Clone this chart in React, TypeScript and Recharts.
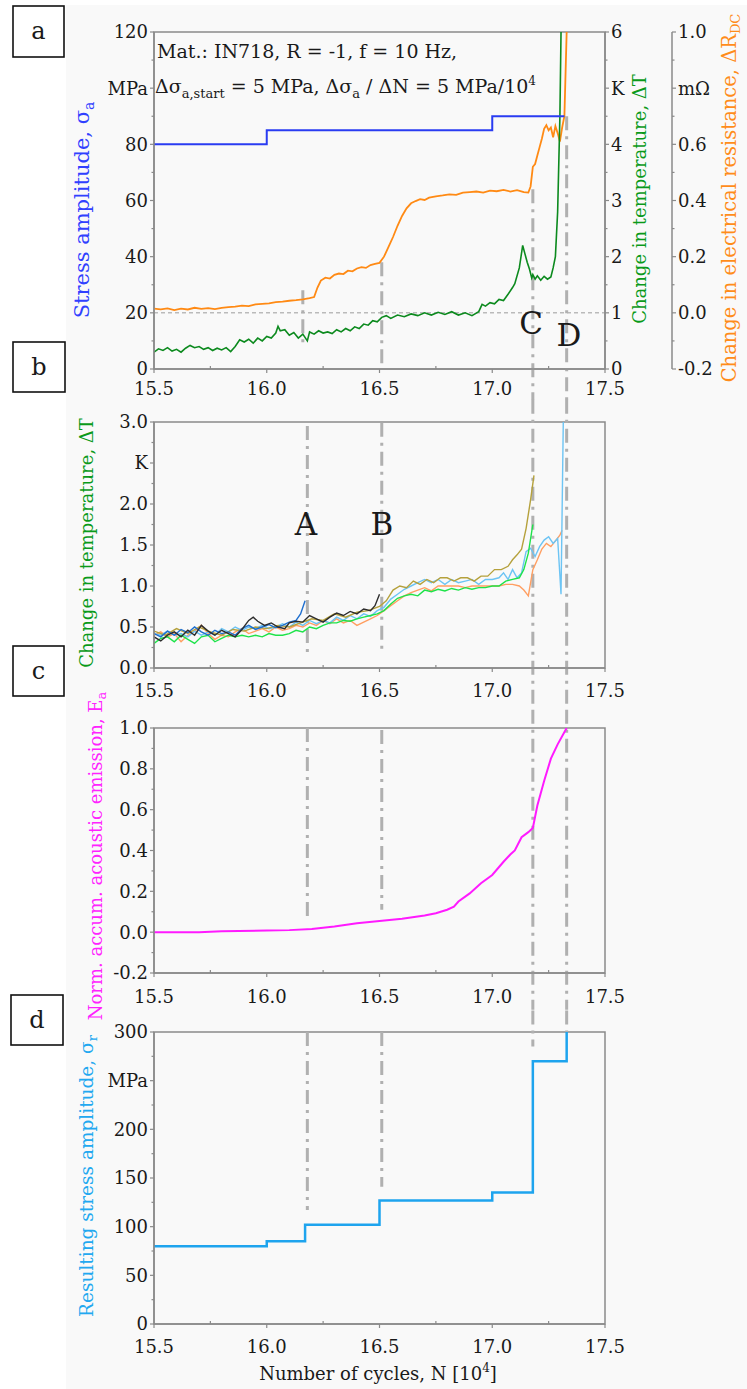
import React from "react";
import { LineChart, Line, XAxis, YAxis, ReferenceLine, ReferenceArea } from "recharts";

// ---- data -----------------------------------------------------------------

const X_TICKS = [15.5, 15.75, 16, 16.25, 16.5, 16.75, 17, 17.25, 17.5];
const SIGMA_TICKS = [0, 10, 20, 30, 40, 50, 60, 70, 80, 90, 100, 110, 120];
const TEMP_A_TICKS = [0, 0.5, 1, 1.5, 2, 2.5, 3, 3.5, 4, 4.5, 5, 5.5, 6];
const RES_TICKS = [-0.2, -0.1, 0, 0.1, 0.2, 0.3, 0.4, 0.5, 0.6, 0.7, 0.8, 0.9, 1.0];
const TEMP_B_TICKS = [0, 0.25, 0.5, 0.75, 1, 1.25, 1.5, 1.75, 2, 2.25, 2.5, 2.75, 3];
const EA_TICKS = [-0.2, -0.1, 0, 0.1, 0.2, 0.3, 0.4, 0.5, 0.6, 0.7, 0.8, 0.9, 1.0];
const SIGR_TICKS = [0, 25, 50, 75, 100, 125, 150, 175, 200, 225, 250, 275, 300];

// events A..D in 10^4 cycles
const EV_A = 16.17;
const EV_B = 16.51;
const EV_C = 17.18;
const EV_D = 17.33;

// panel a: stress amplitude (MPa)
const SIGMA_A: [number, number][] = [
  [15.5, 80], [16.0, 85], [17.0, 90], [17.32, 90],
];

// panel a: change in temperature (K)
const TEMP_A: [number, number][] = [
  [15.5, 0.3], [15.52, 0.36], [15.54, 0.33], [15.56, 0.38], [15.58, 0.32], [15.6, 0.35],
  [15.62, 0.3], [15.64, 0.37], [15.66, 0.42], [15.68, 0.38], [15.7, 0.4], [15.72, 0.35],
  [15.74, 0.38], [15.76, 0.33], [15.78, 0.37], [15.8, 0.34], [15.82, 0.38], [15.84, 0.31],
  [15.86, 0.4], [15.88, 0.52], [15.9, 0.48], [15.92, 0.53], [15.94, 0.46], [15.96, 0.55],
  [15.98, 0.5], [16.0, 0.58], [16.02, 0.55], [16.04, 0.64], [16.05, 0.76], [16.06, 0.68],
  [16.08, 0.7], [16.1, 0.6], [16.12, 0.65], [16.14, 0.55], [16.16, 0.62], [16.18, 0.5],
  [16.19, 0.66], [16.21, 0.62], [16.23, 0.68], [16.25, 0.64], [16.27, 0.66], [16.29, 0.63],
  [16.31, 0.7], [16.33, 0.66], [16.35, 0.72], [16.37, 0.68], [16.39, 0.75], [16.41, 0.72],
  [16.43, 0.8], [16.45, 0.78], [16.47, 0.86], [16.49, 0.84], [16.51, 0.92], [16.53, 0.95],
  [16.55, 0.9], [16.58, 0.96], [16.61, 0.93], [16.64, 0.98], [16.67, 0.95], [16.7, 1.0],
  [16.73, 0.96], [16.76, 1.01], [16.79, 0.97], [16.82, 1.02], [16.85, 0.96], [16.88, 1.0],
  [16.91, 0.95], [16.94, 1.02], [16.955, 1.15], [16.97, 1.12], [16.99, 1.18], [17.01, 1.16],
  [17.03, 1.24], [17.05, 1.22], [17.07, 1.33], [17.09, 1.45], [17.1, 1.52], [17.12, 1.8],
  [17.135, 2.2], [17.145, 2.05], [17.155, 1.9], [17.165, 1.78], [17.175, 1.62], [17.18, 1.68],
  [17.19, 1.6], [17.2, 1.66], [17.215, 1.58], [17.23, 1.65], [17.245, 1.6], [17.26, 1.64],
  [17.27, 1.8], [17.28, 2.0], [17.29, 2.8], [17.3, 4.5], [17.305, 6.0],
];

// panel a: change in electrical resistance (mOhm)
const RES_A: [number, number][] = [
  [15.5, 0.015], [15.53, 0.012], [15.56, 0.016], [15.59, 0.01], [15.62, 0.015], [15.65, 0.012],
  [15.68, 0.018], [15.71, 0.014], [15.74, 0.017], [15.77, 0.013], [15.8, 0.018], [15.83, 0.02],
  [15.86, 0.022], [15.89, 0.026], [15.92, 0.024], [15.95, 0.03], [15.98, 0.032], [16.01, 0.034],
  [16.04, 0.038], [16.07, 0.04], [16.1, 0.043], [16.13, 0.045], [16.16, 0.048], [16.19, 0.052],
  [16.21, 0.056], [16.225, 0.09], [16.24, 0.115], [16.26, 0.125], [16.28, 0.122], [16.3, 0.135],
  [16.32, 0.14], [16.34, 0.138], [16.36, 0.15], [16.38, 0.148], [16.4, 0.158], [16.42, 0.163],
  [16.44, 0.16], [16.46, 0.17], [16.48, 0.174], [16.5, 0.178], [16.52, 0.2], [16.54, 0.235],
  [16.56, 0.27], [16.58, 0.31], [16.6, 0.345], [16.62, 0.372], [16.64, 0.39], [16.66, 0.398],
  [16.68, 0.405], [16.7, 0.402], [16.72, 0.41], [16.75, 0.415], [16.78, 0.418], [16.81, 0.422],
  [16.84, 0.42], [16.87, 0.428], [16.9, 0.43], [16.93, 0.432], [16.96, 0.428], [16.99, 0.435],
  [17.02, 0.433], [17.05, 0.438], [17.08, 0.432], [17.11, 0.437], [17.14, 0.43], [17.16, 0.428],
  [17.17, 0.45], [17.18, 0.52], [17.19, 0.53], [17.2, 0.56], [17.21, 0.59], [17.22, 0.62],
  [17.23, 0.655], [17.24, 0.668], [17.25, 0.65], [17.26, 0.66], [17.27, 0.625], [17.28, 0.665],
  [17.29, 0.64], [17.3, 0.61], [17.31, 0.66], [17.32, 0.7], [17.33, 1.0],
];

// panel b: change in temperature of several specimens (K)
const TB_BLACK: [number, number][] = [
  [15.5, 0.38], [15.53, 0.33], [15.56, 0.4], [15.59, 0.44], [15.62, 0.38], [15.65, 0.46],
  [15.68, 0.4], [15.71, 0.52], [15.74, 0.45], [15.77, 0.4], [15.8, 0.46], [15.83, 0.42],
  [15.86, 0.38], [15.89, 0.47], [15.92, 0.58], [15.94, 0.62], [15.96, 0.57], [15.99, 0.52],
  [16.02, 0.55], [16.05, 0.5], [16.08, 0.48], [16.1, 0.55], [16.13, 0.57], [16.16, 0.56],
  [16.19, 0.64], [16.22, 0.6], [16.25, 0.56], [16.28, 0.62], [16.31, 0.67], [16.34, 0.64],
  [16.37, 0.69], [16.4, 0.66], [16.43, 0.72], [16.46, 0.7], [16.48, 0.76], [16.5, 0.9],
];
const TB_BLUE: [number, number][] = [
  [15.5, 0.42], [15.53, 0.38], [15.56, 0.45], [15.59, 0.4], [15.62, 0.47], [15.65, 0.43],
  [15.68, 0.5], [15.71, 0.44], [15.74, 0.4], [15.77, 0.46], [15.8, 0.42], [15.83, 0.44],
  [15.86, 0.4], [15.89, 0.48], [15.92, 0.52], [15.95, 0.47], [15.98, 0.5], [16.01, 0.53],
  [16.04, 0.49], [16.07, 0.52], [16.1, 0.56], [16.13, 0.58], [16.15, 0.66], [16.17, 0.82],
];
const TB_OLIVE: [number, number][] = [
  [15.5, 0.45], [15.55, 0.4], [15.6, 0.48], [15.65, 0.42], [15.7, 0.5], [15.75, 0.44],
  [15.8, 0.4], [15.85, 0.47], [15.9, 0.45], [15.95, 0.5], [16.0, 0.48], [16.05, 0.52],
  [16.1, 0.5], [16.15, 0.55], [16.2, 0.6], [16.25, 0.58], [16.3, 0.66], [16.35, 0.62],
  [16.4, 0.68], [16.45, 0.7], [16.5, 0.75], [16.53, 0.82], [16.56, 0.95], [16.59, 1.0],
  [16.62, 0.98], [16.65, 1.06], [16.68, 1.02], [16.71, 1.08], [16.74, 1.04], [16.77, 1.1],
  [16.8, 1.1], [16.83, 1.06], [16.86, 1.1], [16.89, 1.1], [16.92, 1.06], [16.95, 1.12],
  [16.98, 1.12], [17.01, 1.2], [17.04, 1.2], [17.07, 1.24], [17.09, 1.32], [17.11, 1.38],
  [17.13, 1.45], [17.15, 1.7], [17.17, 2.05], [17.185, 2.35],
];
const TB_GREEN: [number, number][] = [
  [15.5, 0.3], [15.53, 0.36], [15.56, 0.38], [15.59, 0.32], [15.62, 0.4], [15.65, 0.35],
  [15.68, 0.3], [15.71, 0.38], [15.74, 0.4], [15.77, 0.32], [15.8, 0.36], [15.83, 0.4],
  [15.86, 0.38], [15.89, 0.4], [15.92, 0.38], [15.95, 0.4], [15.98, 0.38], [16.01, 0.42],
  [16.04, 0.4], [16.07, 0.4], [16.1, 0.42], [16.13, 0.46], [16.16, 0.44], [16.19, 0.5],
  [16.22, 0.48], [16.25, 0.52], [16.28, 0.55], [16.31, 0.55], [16.34, 0.58], [16.37, 0.57],
  [16.4, 0.6], [16.43, 0.62], [16.46, 0.64], [16.49, 0.66], [16.52, 0.7], [16.55, 0.78],
  [16.58, 0.85], [16.61, 0.88], [16.64, 0.9], [16.67, 0.88], [16.7, 0.95], [16.73, 0.93],
  [16.76, 0.96], [16.79, 0.94], [16.82, 0.97], [16.85, 0.95], [16.88, 0.98], [16.91, 0.96],
  [16.94, 0.98], [16.97, 0.98], [17.0, 1.0], [17.03, 1.0], [17.06, 1.06], [17.09, 1.08],
  [17.12, 1.1], [17.14, 1.2], [17.16, 1.4], [17.18, 1.75],
];
const TB_ORANGE: [number, number][] = [
  [15.5, 0.4], [15.53, 0.44], [15.56, 0.38], [15.59, 0.42], [15.62, 0.32], [15.65, 0.4],
  [15.68, 0.45], [15.71, 0.52], [15.74, 0.42], [15.77, 0.35], [15.8, 0.4], [15.83, 0.38],
  [15.86, 0.44], [15.89, 0.48], [15.92, 0.42], [15.95, 0.45], [15.98, 0.48], [16.01, 0.44],
  [16.04, 0.5], [16.07, 0.46], [16.1, 0.48], [16.13, 0.52], [16.16, 0.5], [16.19, 0.55],
  [16.22, 0.52], [16.25, 0.58], [16.28, 0.54], [16.31, 0.6], [16.34, 0.55], [16.37, 0.58],
  [16.4, 0.52], [16.43, 0.56], [16.46, 0.6], [16.49, 0.64], [16.52, 0.7], [16.55, 0.76],
  [16.58, 0.82], [16.61, 0.88], [16.64, 0.92], [16.67, 0.95], [16.7, 0.98], [16.73, 0.94],
  [16.76, 1.0], [16.79, 1.0], [16.82, 1.0], [16.85, 1.0], [16.88, 0.98], [16.91, 1.0],
  [16.94, 1.0], [16.97, 1.0], [17.0, 1.0], [17.03, 1.0], [17.06, 1.02], [17.09, 1.02],
  [17.12, 1.0], [17.14, 0.95], [17.16, 0.88], [17.18, 1.2], [17.2, 1.32], [17.22, 1.45],
  [17.24, 1.52], [17.26, 1.48], [17.28, 1.55], [17.3, 1.62], [17.31, 1.68],
];
const TB_LIGHTBLUE: [number, number][] = [
  [15.5, 0.42], [15.53, 0.4], [15.56, 0.45], [15.59, 0.4], [15.62, 0.42], [15.65, 0.38],
  [15.68, 0.45], [15.71, 0.4], [15.74, 0.44], [15.77, 0.4], [15.8, 0.48], [15.83, 0.44],
  [15.86, 0.5], [15.89, 0.46], [15.92, 0.5], [15.95, 0.48], [15.98, 0.52], [16.01, 0.48],
  [16.04, 0.5], [16.07, 0.54], [16.1, 0.5], [16.13, 0.56], [16.16, 0.52], [16.19, 0.58],
  [16.22, 0.54], [16.25, 0.58], [16.28, 0.55], [16.31, 0.62], [16.34, 0.58], [16.37, 0.64],
  [16.4, 0.6], [16.43, 0.66], [16.46, 0.63], [16.49, 0.7], [16.52, 0.74], [16.55, 0.84],
  [16.58, 0.9], [16.61, 0.96], [16.64, 1.0], [16.67, 1.04], [16.7, 1.08], [16.73, 1.04],
  [16.76, 1.08], [16.79, 1.02], [16.82, 1.08], [16.85, 1.04], [16.88, 1.06], [16.91, 1.08],
  [16.94, 1.02], [16.97, 1.08], [17.0, 1.08], [17.03, 1.1], [17.05, 1.16], [17.07, 1.08],
  [17.09, 1.2], [17.11, 1.1], [17.13, 1.16], [17.15, 1.42], [17.17, 1.46], [17.19, 1.36],
  [17.21, 1.48], [17.23, 1.56], [17.25, 1.6], [17.27, 1.52], [17.29, 1.58], [17.305, 0.9],
  [17.315, 3.0],
];

// panel c: normalised accumulated acoustic emission
const EA: [number, number][] = [
  [15.5, 0.0], [15.7, 0.0], [15.8, 0.005], [16.0, 0.008], [16.1, 0.01], [16.2, 0.016],
  [16.3, 0.028], [16.4, 0.044], [16.5, 0.055], [16.6, 0.066], [16.7, 0.082], [16.75, 0.093],
  [16.8, 0.11], [16.83, 0.125], [16.85, 0.15], [16.9, 0.19], [16.95, 0.24], [17.0, 0.28],
  [17.05, 0.345], [17.08, 0.38], [17.1, 0.4], [17.13, 0.465], [17.16, 0.49], [17.18, 0.51],
  [17.2, 0.62], [17.23, 0.74], [17.26, 0.85], [17.29, 0.92], [17.33, 1.0],
];

// panel d: resulting stress amplitude (MPa)
const SIGMA_R: [number, number][] = [
  [15.5, 80], [16.0, 85], [16.17, 102], [16.5, 127], [17.0, 135], [17.18, 270], [17.33, 300],
];

// ---- styling --------------------------------------------------------------

const SERIF = "'DejaVu Serif', serif";
const AXIS = "#8a8a8a";
const REF = "#b0b0b0";
const REF_DASH = "14 6 3 6";
const TXT = "#1a1a1a";

const pts = (arr: [number, number][]) => arr.map(([x, y]) => ({ x, y }));

const near = (v: number, step: number) => Math.abs(v / step - Math.round(v / step)) < 1e-6;

function XTick(props: any) {
  const { x, y, payload, off } = props;
  const v = payload.value;
  const major = near(v, 0.5);
  return (
    <g>
      <line x1={x} x2={x} y1={y} y2={major ? y + 4 : y - 3} stroke={AXIS} strokeWidth={1.2} />
      {major && (
        <text x={x} y={y + off} textAnchor="middle" fontFamily={SERIF} fontSize={18} fill={TXT}>
          {v.toFixed(1)}
        </text>
      )}
    </g>
  );
}

function YTick(props: any) {
  const { x, y, payload, side, labelOf } = props;
  const label = labelOf(payload.value);
  const dir = side === "left" ? -1 : 1;
  return (
    <g>
      <line x1={x} x2={x + dir * (label !== null ? 4 : 2.5)} y1={y} y2={y} stroke={AXIS} strokeWidth={1.2} />
      {label !== null && (
        <text
          x={x + dir * 6}
          y={y}
          dy="0.36em"
          textAnchor={side === "left" ? "end" : "start"}
          fontFamily={SERIF}
          fontSize={18}
          fill={TXT}
        >
          {label}
        </text>
      )}
    </g>
  );
}

const sigmaLabel = (v: number) => (v % 20 === 0 ? (v === 100 ? "MPa" : String(v)) : null);
const tempALabel = (v: number) => (Number.isInteger(v) ? (v === 5 ? "K" : String(v)) : null);
const resLabel = (v: number) =>
  near(v, 0.2) ? (Math.abs(v - 0.8) < 1e-6 ? "m\u03A9" : v.toFixed(1)) : null;
const tempBLabel = (v: number) => (near(v, 0.5) ? (v === 2.5 ? "K" : v.toFixed(1)) : null);
const eaLabel = (v: number) => (near(v, 0.2) ? v.toFixed(1) : null);
const sigrLabel = (v: number) => (v % 50 === 0 ? (v === 250 ? "MPa" : String(v)) : null);

const xAxis = (off: number) => (
  <XAxis
    type="number"
    dataKey="x"
    domain={[15.5, 17.5]}
    ticks={X_TICKS}
    interval={0}
    allowDataOverflow
    tickSize={0}
    tickMargin={0}
    tickLine={false}
    height={30}
    axisLine={{ stroke: AXIS, strokeWidth: 1.5 }}
    tick={(p: any) => <XTick {...p} off={off} />}
  />
);

const yAxis = (id: string, domain: [number, number], ticks: number[], labelOf: any, side: "left" | "right", width: number) => (
  <YAxis
    yAxisId={id}
    type="number"
    orientation={side}
    domain={domain}
    ticks={ticks}
    interval={0}
    allowDataOverflow
    width={width}
    tickSize={0}
    tickMargin={0}
    tickLine={false}
    axisLine={{ stroke: AXIS, strokeWidth: 1.5 }}
    tick={(p: any) => <YTick {...p} side={side} labelOf={labelOf} />}
  />
);

const eventLine = (key: string, yAxisId: string, x: number, y1: number, y2: number) => (
  <ReferenceLine
    key={key}
    yAxisId={yAxisId}
    segment={[{ x, y: y1 }, { x, y: y2 }]}
    ifOverflow="visible"
    stroke={REF}
    strokeWidth={3}
    strokeDasharray={REF_DASH}
  />
);

const frame = (yAxisId: string, y1: number, y2: number) => (
  <ReferenceArea yAxisId={yAxisId} x1={15.5} x2={17.5} y1={y1} y2={y2} fill="none" stroke={AXIS} strokeWidth={1.5} />
);

const series = (key: string, yAxisId: string, data: [number, number][], color: string, width: number, type: any = "linear") => (
  <Line
    key={key}
    yAxisId={yAxisId}
    data={pts(data)}
    dataKey="y"
    type={type}
    stroke={color}
    strokeWidth={width}
    dot={false}
    activeDot={false}
    isAnimationActive={false}
  />
);

// ---- panels ----------------------------------------------------------------

// right axes are laid out in id order: r1 (temperature) sits next to the plot, r2 (resistance) outside
function PanelA() {
  return (
    <div style={{ position: "absolute", left: 0, top: 0 }}>
      <LineChart width={747} height={400} margin={{ top: 32, left: 94, right: 30, bottom: 1 }}>
        {xAxis(26)}
        {yAxis("l1", [0, 120], SIGMA_TICKS, sigmaLabel, "left", 60)}
        {yAxis("r1", [0, 6], TEMP_A_TICKS, tempALabel, "right", 67)}
        {yAxis("r2", [-0.2, 1.0], RES_TICKS, resLabel, "right", 45)}
        {frame("l1", 0, 120)}
        <ReferenceLine yAxisId="l1" y={20} stroke="#9c9c9c" strokeWidth={1} strokeDasharray="4 3" />
        {eventLine("a", "l1", EV_A - 0.01, 28, 8)}
        {eventLine("b", "l1", EV_B, 38, 0)}
        {eventLine("c", "l1", EV_C, 64, -11)}
        {eventLine("d", "l1", EV_D, 90, -11)}
        {series("res", "r2", RES_A, "#ff8a14", 1.8)}
        {series("temp", "r1", TEMP_A, "#0c8a1e", 1.6)}
        {series("sig", "l1", SIGMA_A, "#2a3cf2", 2, "stepAfter")}
      </LineChart>
    </div>
  );
}

function PanelB() {
  return (
    <div style={{ position: "absolute", left: 0, top: 400 }}>
      <LineChart width={747} height={310} margin={{ top: 22, left: 94, right: 142, bottom: 12 }}>
        {xAxis(29)}
        {yAxis("t", [0, 3], TEMP_B_TICKS, tempBLabel, "left", 60)}
        {frame("t", 0, 3)}
        {eventLine("a", "t", EV_A + 0.01, 2.95, 0.13)}
        {eventLine("b", "t", EV_B, 2.99, 0.18)}
        {eventLine("c", "t", EV_C, 3.27, -0.51)}
        {eventLine("d", "t", EV_D, 3.27, -0.51)}
        {series("orange", "t", TB_ORANGE, "#ff9f62", 1.4)}
        {series("lightblue", "t", TB_LIGHTBLUE, "#6cc4f4", 1.4)}
        {series("green", "t", TB_GREEN, "#1ee34a", 1.4)}
        {series("olive", "t", TB_OLIVE, "#b5a13c", 1.4)}
        {series("blue", "t", TB_BLUE, "#1f6fcf", 1.4)}
        {series("black", "t", TB_BLACK, "#2d2d2d", 1.4)}
      </LineChart>
    </div>
  );
}

function PanelC() {
  return (
    <div style={{ position: "absolute", left: 0, top: 710 }}>
      <LineChart width={747} height={300} margin={{ top: 18, left: 94, right: 142, bottom: 7 }}>
        {xAxis(30)}
        {yAxis("e", [-0.2, 1.0], EA_TICKS, eaLabel, "left", 60)}
        {frame("e", -0.2, 1.0)}
        {eventLine("a", "e", EV_A + 0.01, 1.0, 0.06)}
        {eventLine("b", "e", EV_B, 0.99, 0.11)}
        {eventLine("c", "e", EV_C, 1.09, -0.38)}
        {eventLine("d", "e", EV_D, 1.09, -0.38)}
        {series("ea", "e", EA, "#ff1aff", 2)}
      </LineChart>
    </div>
  );
}

function PanelD() {
  return (
    <div style={{ position: "absolute", left: 0, top: 1010 }}>
      <LineChart width={747} height={379} margin={{ top: 22, left: 94, right: 142, bottom: 35 }}>
        {xAxis(29)}
        {yAxis("s", [0, 300], SIGR_TICKS, sigrLabel, "left", 60)}
        {frame("s", 0, 300)}
        {eventLine("a", "s", EV_A + 0.01, 300, 117)}
        {eventLine("b", "s", EV_B, 300, 141)}
        {eventLine("c", "s", EV_C, 322, 285)}
        {eventLine("d", "s", EV_D, 322, 300)}
        {series("sr", "s", SIGMA_R, "#1ea4ee", 2.5, "stepAfter")}
      </LineChart>
    </div>
  );
}

function Box({ x, y, w, h, label }: { x: number; y: number; w: number; h: number; label: string }) {
  return (
    <g>
      <rect x={x} y={y} width={w} height={h} fill="#fff" stroke="#111" strokeWidth={1.6} />
      <text x={x + w / 2} y={y + h / 2} dy="0.32em" textAnchor="middle" fontFamily={SERIF} fontSize={24} fill={TXT}>
        {label}
      </text>
    </g>
  );
}

function VTitle({ cx, cy, color, size, children }: any) {
  return (
    <text
      transform={`translate(${cx},${cy}) rotate(-90)`}
      textAnchor="middle"
      dy="0.35em"
      fontFamily={SERIF}
      fontSize={size}
      fill={color}
    >
      {children}
    </text>
  );
}

function Overlay() {
  const sub = (t: string, size = 13) => (
    <tspan fontSize={size} dy={5}>
      {t}
    </tspan>
  );
  return (
    <svg width={747} height={1389} style={{ position: "absolute", left: 0, top: 0, pointerEvents: "none" }}>
      <Box x={13} y={6} w={51} h={51} label="a" />
      <Box x={13} y={342} w={52} h={50} label="b" />
      <Box x={13} y={646} w={51} h={50} label="c" />
      <Box x={11} y={995} w={52} h={50} label="d" />

      <text x={157} y={58} fontFamily={SERIF} fontSize={19} fill={TXT}>
        Mat.: IN718, R = -1, f = 10 Hz,
      </text>
      <text x={155} y={93} fontFamily={SERIF} fontSize={19} fill={TXT}>
        Δσ{sub("a,start")}
        <tspan dy={-5}> = 5 MPa, Δσ</tspan>
        {sub("a")}
        <tspan dy={-5}> / ΔN = 5 MPa/10</tspan>
        <tspan fontSize={12} dy={-8}>
          4
        </tspan>
      </text>

      <text x={306} y={535} textAnchor="middle" fontFamily={SERIF} fontSize={31} fill={TXT}>A</text>
      <text x={382} y={535} textAnchor="middle" fontFamily={SERIF} fontSize={31} fill={TXT}>B</text>
      <text x={531} y={334} textAnchor="middle" fontFamily={SERIF} fontSize={31} fill={TXT}>C</text>
      <text x={569} y={346} textAnchor="middle" fontFamily={SERIF} fontSize={31} fill={TXT}>D</text>

      <VTitle cx={82} cy={210} color="#3040ff" size={21}>
        Stress amplitude, σ<tspan fontSize={14} dy={5}>a</tspan>
      </VTitle>
      <VTitle cx={640} cy={199} color="#0a9a1a" size={18}>
        Change in temperature, ΔT
      </VTitle>
      <VTitle cx={729} cy={198} color="#ff8c1a" size={19.5}>
        Change in electrical resistance, ΔR<tspan fontSize={13} dy={4}>DC</tspan>
      </VTitle>
      <VTitle cx={87} cy={543} color="#0a9a1a" size={18}>
        Change in temperature, ΔT
      </VTitle>
      <VTitle cx={96} cy={856} color="#ff22ff" size={18}>
        Norm. accum. acoustic emission, E<tspan fontSize={13} dy={4}>a</tspan>
      </VTitle>
      <VTitle cx={87} cy={1176} color="#22a8f0" size={18.5}>
        Resulting stress amplitude, σ<tspan fontSize={13} dy={4}>r</tspan>
      </VTitle>

      <text x={378} y={1380} textAnchor="middle" fontFamily={SERIF} fontSize={18} fill={TXT}>
        Number of cycles, N [10<tspan fontSize={12} dy={-8}>4</tspan>
        <tspan dy={8}>]</tspan>
      </text>
    </svg>
  );
}

export default function App() {
  return (
    <div style={{ position: "absolute", left: 0, top: 0, width: 747, height: 1389, background: "#fff", overflow: "hidden" }}>
      <style>{`.recharts-surface{overflow:visible}`}</style>
      <div style={{ position: "absolute", left: 66, top: 5, width: 681, height: 1384, background: "#f9f9f9" }} />
      <PanelA />
      <PanelB />
      <PanelC />
      <PanelD />
      <Overlay />
    </div>
  );
}
